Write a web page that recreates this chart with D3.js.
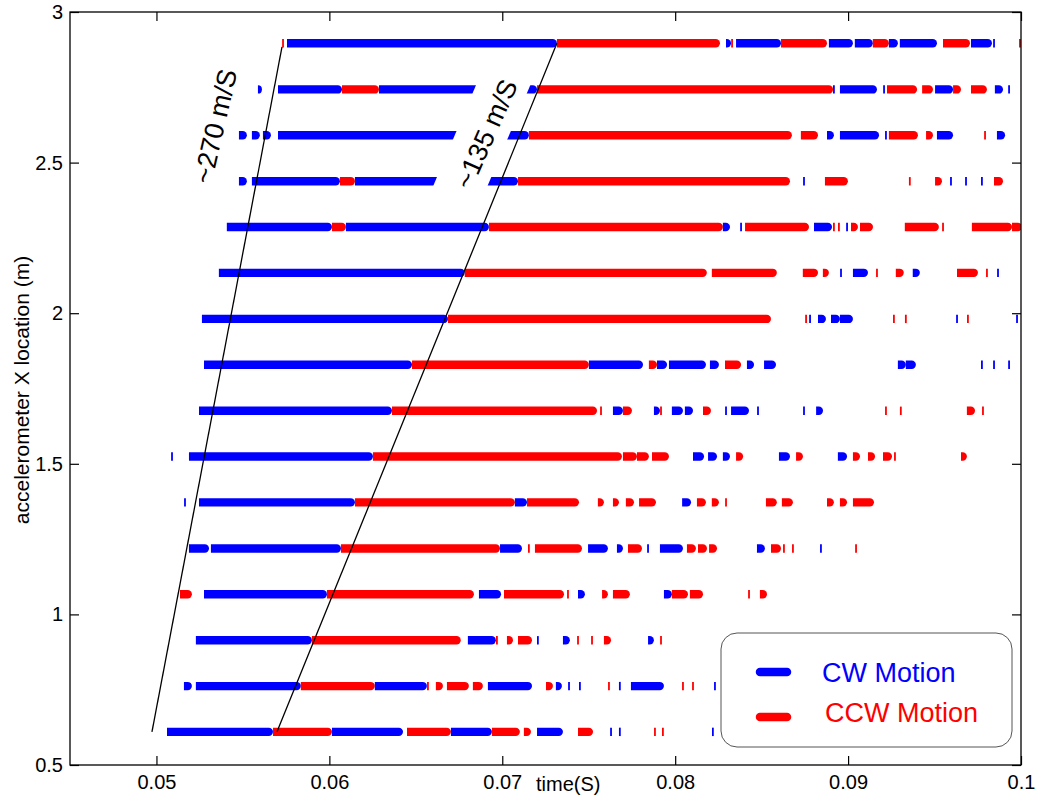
<!DOCTYPE html>
<html>
<head>
<meta charset="utf-8">
<script src="https://cdn.jsdelivr.net/npm/d3@7"></script>
<style>
  body { margin: 0; background: #fff; }
  text { font-family: "Liberation Sans", Arial, sans-serif; }
</style>
</head>
<body>
<svg id="chart" width="1037" height="798"></svg>
<script>
// accelerometer positions (m), one row per sensor
let rowY = [0.61, 0.762, 0.914, 1.067, 1.219, 1.372, 1.524, 1.676,
  1.829, 1.981, 2.134, 2.286, 2.438, 2.591, 2.743, 2.896];

// motion segments per row: [start time (s), end time (s), "b" = CW / "r" = CCW]
let rows = [
  [[0.05061,0.05674,"b"],[0.05674,0.06015,"r"],[0.06015,0.06426,"b"],[0.06449,0.06703,"r"],[0.06703,0.06940,"b"],[0.06940,0.07102,"r"],[0.07125,0.07166,"r"],[0.07201,0.07351,"b"],[0.07438,0.07525,"r"],[0.07629,0.07629,"b"],[0.07680,0.07680,"b"],[0.07883,0.07883,"r"],[0.07929,0.07929,"r"],[0.08218,0.08218,"b"]],
  [[0.05159,0.05205,"b"],[0.05228,0.05835,"b"],[0.05835,0.06263,"r"],[0.06263,0.06564,"b"],[0.06570,0.06570,"r"],[0.06616,0.06657,"r"],[0.06680,0.06807,"r"],[0.06830,0.06888,"r"],[0.06917,0.07172,"b"],[0.07253,0.07293,"r"],[0.07310,0.07345,"b"],[0.07386,0.07386,"b"],[0.07449,0.07449,"b"],[0.07617,0.07617,"r"],[0.07680,0.07680,"b"],[0.07744,0.07935,"b"],[0.08045,0.08045,"r"],[0.08103,0.08103,"r"],[0.08230,0.08230,"b"]],
  [[0.05228,0.05899,"b"],[0.05899,0.06760,"r"],[0.06801,0.06963,"b"],[0.06969,0.06969,"r"],[0.07027,0.07062,"r"],[0.07091,0.07172,"r"],[0.07206,0.07206,"b"],[0.07351,0.07391,"b"],[0.07438,0.07438,"r"],[0.07519,0.07519,"r"],[0.07588,0.07629,"r"],[0.07843,0.07877,"b"],[0.07918,0.07918,"r"]],
  [[0.05136,0.05205,"r"],[0.05275,0.05986,"b"],[0.05986,0.06836,"r"],[0.06865,0.06993,"b"],[0.07010,0.07357,"r"],[0.07380,0.07380,"r"],[0.07438,0.07478,"b"],[0.07577,0.07611,"r"],[0.07640,0.07738,"r"],[0.07935,0.07981,"b"],[0.07981,0.08074,"r"],[0.08085,0.08161,"r"],[0.08427,0.08427,"r"],[0.08490,0.08531,"r"]],
  [[0.05188,0.05304,"b"],[0.05315,0.06067,"b"],[0.06067,0.06987,"r"],[0.06987,0.07114,"b"],[0.07154,0.07154,"r"],[0.07189,0.07461,"r"],[0.07496,0.07611,"b"],[0.07663,0.07698,"b"],[0.07727,0.07808,"r"],[0.07843,0.07843,"b"],[0.07912,0.08045,"b"],[0.08068,0.08120,"r"],[0.08132,0.08184,"r"],[0.08196,0.08242,"r"],[0.08473,0.08519,"b"],[0.08554,0.08612,"r"],[0.08629,0.08629,"r"],[0.08681,0.08681,"r"],[0.08843,0.08843,"b"],[0.09046,0.09046,"r"]],
  [[0.05165,0.05165,"b"],[0.05246,0.06148,"b"],[0.06148,0.07073,"r"],[0.07073,0.07143,"b"],[0.07143,0.07444,"r"],[0.07553,0.07588,"r"],[0.07640,0.07675,"r"],[0.07715,0.07762,"r"],[0.07791,0.07889,"r"],[0.08040,0.08092,"b"],[0.08126,0.08178,"r"],[0.08212,0.08253,"r"],[0.08294,0.08294,"r"],[0.08525,0.08588,"r"],[0.08617,0.08681,"r"],[0.08878,0.08918,"r"],[0.08953,0.08994,"r"],[0.09028,0.09150,"r"]],
  [[0.05090,0.05090,"b"],[0.05188,0.06252,"b"],[0.06252,0.07692,"r"],[0.07698,0.07779,"r"],[0.07779,0.07848,"r"],[0.07866,0.07964,"r"],[0.08103,0.08167,"b"],[0.08190,0.08242,"b"],[0.08276,0.08317,"b"],[0.08352,0.08393,"r"],[0.08600,0.08664,"b"],[0.08699,0.08739,"r"],[0.08941,0.08994,"b"],[0.09028,0.09069,"r"],[0.09115,0.09156,"r"],[0.09202,0.09254,"r"],[0.09271,0.09271,"r"],[0.09653,0.09687,"r"]],
  [[0.05246,0.06362,"b"],[0.06362,0.07548,"r"],[0.07571,0.07571,"r"],[0.07640,0.07698,"b"],[0.07698,0.07750,"r"],[0.07877,0.07912,"b"],[0.07918,0.07918,"r"],[0.07981,0.08045,"b"],[0.08056,0.08103,"b"],[0.08161,0.08207,"r"],[0.08294,0.08294,"b"],[0.08323,0.08427,"b"],[0.08479,0.08479,"b"],[0.08745,0.08745,"b"],[0.08815,0.08855,"b"],[0.09219,0.09219,"r"],[0.09305,0.09305,"r"],[0.09687,0.09734,"r"],[0.09780,0.09780,"r"]],
  [[0.05275,0.06478,"b"],[0.06478,0.07501,"r"],[0.07501,0.07814,"b"],[0.07848,0.07895,"r"],[0.07895,0.07953,"b"],[0.07964,0.08178,"b"],[0.08201,0.08253,"b"],[0.08288,0.08381,"r"],[0.08415,0.08456,"b"],[0.08514,0.08583,"b"],[0.09288,0.09334,"b"],[0.09334,0.09392,"b"],[0.09774,0.09774,"b"],[0.09844,0.09844,"b"],[0.09931,0.09931,"b"]],
  [[0.05263,0.06686,"b"],[0.06686,0.08554,"r"],[0.08757,0.08757,"r"],[0.08780,0.08780,"b"],[0.08826,0.08872,"b"],[0.08901,0.08953,"b"],[0.08953,0.09028,"b"],[0.09265,0.09265,"r"],[0.09334,0.09334,"r"],[0.09630,0.09630,"b"],[0.09693,0.09693,"r"],[0.09977,0.09977,"b"]],
  [[0.05361,0.06783,"b"],[0.06783,0.08183,"r"],[0.08212,0.08588,"r"],[0.08738,0.08826,"r"],[0.08854,0.08889,"r"],[0.08959,0.08959,"b"],[0.09028,0.09115,"b"],[0.09167,0.09167,"r"],[0.09276,0.09322,"r"],[0.09374,0.09415,"b"],[0.09630,0.09751,"r"],[0.09803,0.09803,"r"],[0.09867,0.09867,"b"]],
  [[0.05407,0.06015,"b"],[0.06015,0.06096,"r"],[0.06096,0.06923,"b"],[0.06923,0.08276,"r"],[0.08276,0.08317,"b"],[0.08381,0.08381,"b"],[0.08404,0.08774,"r"],[0.08803,0.08907,"b"],[0.08918,0.08918,"r"],[0.08947,0.08947,"r"],[0.08994,0.08994,"b"],[0.09017,0.09057,"r"],[0.09069,0.09144,"r"],[0.09328,0.09525,"r"],[0.09549,0.09549,"r"],[0.09716,0.09948,"r"],[0.09948,0.10006,"r"]],
  [[0.05477,0.05523,"b"],[0.05552,0.06061,"b"],[0.06061,0.06148,"r"],[0.06148,0.07091,"b"],[0.07091,0.08664,"r"],[0.08745,0.08745,"b"],[0.08866,0.08999,"r"],[0.09357,0.09357,"r"],[0.09503,0.09543,"r"],[0.09595,0.09595,"b"],[0.09682,0.09682,"b"],[0.09774,0.09774,"b"],[0.09844,0.09896,"r"]],
  [[0.05477,0.05523,"b"],[0.05552,0.05598,"b"],[0.05616,0.05662,"b"],[0.05703,0.07154,"b"],[0.07154,0.08675,"r"],[0.08727,0.08826,"r"],[0.08878,0.08918,"b"],[0.08953,0.09179,"b"],[0.09219,0.09219,"b"],[0.09236,0.09404,"r"],[0.09451,0.09491,"r"],[0.09514,0.09607,"b"],[0.09792,0.09792,"r"],[0.09861,0.09908,"b"]],
  [[0.05587,0.05610,"b"],[0.05703,0.06073,"b"],[0.06073,0.06287,"r"],[0.06287,0.07201,"b"],[0.07201,0.08913,"r"],[0.08918,0.08918,"b"],[0.08953,0.09167,"b"],[0.09208,0.09208,"b"],[0.09225,0.09399,"r"],[0.09428,0.09491,"r"],[0.09503,0.09607,"b"],[0.09607,0.09653,"r"],[0.09711,0.09803,"r"],[0.09849,0.09896,"b"],[0.09931,0.09931,"b"]],
  [[0.05732,0.05732,"r"],[0.05755,0.07316,"b"],[0.07316,0.08259,"r"],[0.08294,0.08323,"b"],[0.08329,0.08329,"r"],[0.08352,0.08612,"b"],[0.08612,0.08878,"r"],[0.08889,0.09028,"b"],[0.09039,0.09143,"b"],[0.09143,0.09236,"r"],[0.09236,0.09288,"b"],[0.09299,0.09514,"b"],[0.09549,0.09705,"r"],[0.09711,0.09832,"b"],[0.09844,0.09844,"b"],[0.09994,0.09994,"r"]]
];

// wave front fits: [t bottom, x bottom, t top, x top]
let fronts = [[0.04974, 0.61, 0.05726, 2.884], [0.05697, 0.61, 0.07316, 2.896]];
let frontLabels = ["~270 m/S", "~135 m/S"];
let labelPos = [[0.05339, 2.621, -77], [0.06906, 2.595, -66]];

let xTicks = [0.05, 0.06, 0.07, 0.08, 0.09, 0.1];
let yTicks = [0.5, 1, 1.5, 2, 2.5, 3];
let legendNames = ["CW Motion", "CCW Motion"];
let colors = { b: "#0000ff", r: "#ff0000" };

let svg = d3.select("#chart");
let mLeft = 70, mRight = 1021, mTop = 12, mBottom = 765;

let x = d3.scaleLinear().domain([0.045, 0.1]).range([mLeft, mRight]);
let y = d3.scaleLinear().domain([0.5, 3]).range([mBottom, mTop]);

svg.append("clipPath").attr("id", "plot")
  .append("rect").attr("x", mLeft).attr("y", mTop)
  .attr("width", mRight - mLeft).attr("height", mBottom - mTop);

let plot = svg.append("g").attr("clip-path", "url(#plot)");

function segPath(x0, x1, yc) {
  let h = 4.2;
  let w = x1 - x0;
  if (w < 1.5) {
    return "M" + (x0 - 0.9) + "," + (yc - h) + "h1.8v" + (2 * h) + "h-1.8Z";
  }
  let r = Math.min(h, w);
  return "M" + x0 + "," + (yc - h) + "H" + (x1 - r) +
    "A" + r + "," + h + " 0 0 1 " + (x1 - r) + "," + (yc + h) +
    "H" + x0 + "Z";
}

rows.forEach(function(segs, i) {
  plot.append("g")
    .selectAll("path")
    .data(segs)
    .enter()
    .append("path")
    .attr("d", function(d) {
      return segPath(x(d[0]), x(d[1]), y(rowY[i]));
    })
    .attr("fill", function(d) { return colors[d[2]]; });
});

// white background of the ~135 label hides part of the bars
plot.append("rect")
  .attr("x", -80).attr("y", -25).attr("width", 160).attr("height", 50)
  .attr("fill", "#fff")
  .attr("transform", "translate(" + x(0.06883) + "," + y(2.592) + ") rotate(-67)");

plot.selectAll("line.front")
  .data(fronts)
  .enter()
  .append("line")
  .attr("class", "front")
  .attr("x1", function(d) { return x(d[0]); })
  .attr("y1", function(d) { return y(d[1]); })
  .attr("x2", function(d) { return x(d[2]); })
  .attr("y2", function(d) { return y(d[3]); })
  .attr("stroke", "#000")
  .attr("stroke-width", 1.3);

svg.selectAll("text.front")
  .data(frontLabels)
  .enter()
  .append("text")
  .attr("class", "front")
  .attr("transform", function(d, i) {
    return "translate(" + x(labelPos[i][0]) + "," + y(labelPos[i][1]) + ") rotate(" + labelPos[i][2] + ")";
  })
  .attr("text-anchor", "middle")
  .attr("dy", "0.35em")
  .style("font-size", "27px")
  .text(function(d) { return d; });

// axes, matlab style: ticks inside on all four sides
let fmt = d3.format("~g");
svg.append("g").attr("transform", "translate(0," + mBottom + ")")
  .call(d3.axisBottom(x).tickValues(xTicks).tickFormat(fmt).tickSizeInner(-9).tickSizeOuter(0).tickPadding(10));
svg.append("g").attr("transform", "translate(0," + mTop + ")")
  .call(d3.axisTop(x).tickValues(xTicks).tickFormat("").tickSizeInner(-9).tickSizeOuter(0));
svg.append("g").attr("transform", "translate(" + mLeft + ",0)")
  .call(d3.axisLeft(y).tickValues(yTicks).tickFormat(fmt).tickSizeInner(-9).tickSizeOuter(0).tickPadding(7));
svg.append("g").attr("transform", "translate(" + mRight + ",0)")
  .call(d3.axisRight(y).tickValues(yTicks).tickFormat("").tickSizeInner(-9).tickSizeOuter(0));

svg.selectAll(".domain").remove();
svg.selectAll(".tick line").attr("stroke", "#000").attr("stroke-width", 1.2);
svg.selectAll(".tick text").style("font-size", "20px").attr("fill", "#000")
  .style("font-family", "'Liberation Sans', Arial, sans-serif");

svg.append("rect")
  .attr("x", mLeft).attr("y", mTop)
  .attr("width", mRight - mLeft).attr("height", mBottom - mTop)
  .attr("fill", "none").attr("stroke", "#000").attr("stroke-width", 1.3);

svg.append("text")
  .attr("x", 536).attr("y", 791)
  .style("font-size", "20px")
  .text("time(S)");

svg.append("text")
  .attr("transform", "translate(29,390) rotate(-90)")
  .attr("text-anchor", "middle")
  .style("font-size", "21px")
  .text("accelerometer X location (m)");

// legend
let legend = svg.append("g");
legend.append("rect")
  .attr("x", 721).attr("y", 633).attr("width", 291).attr("height", 114)
  .attr("rx", 16).attr("ry", 16)
  .attr("fill", "#fff").attr("stroke", "#555").attr("stroke-width", 1);

legend.selectAll("line")
  .data(["b", "r"])
  .enter()
  .append("line")
  .attr("x1", 760).attr("x2", 787)
  .attr("y1", function(d, i) { return 672 + i * 45; })
  .attr("y2", function(d, i) { return 672 + i * 45; })
  .attr("stroke", function(d) { return colors[d]; })
  .attr("stroke-width", 8.5)
  .attr("stroke-linecap", "round");

legend.selectAll("text")
  .data(legendNames)
  .enter()
  .append("text")
  .attr("x", function(d, i) { return 822 + i * 3; })
  .attr("y", function(d, i) { return 682 + i * 40; })
  .attr("fill", function(d, i) { return i == 0 ? colors.b : colors.r; })
  .style("font-size", "27px")
  .text(function(d) { return d; });
</script>
</body>
</html>
